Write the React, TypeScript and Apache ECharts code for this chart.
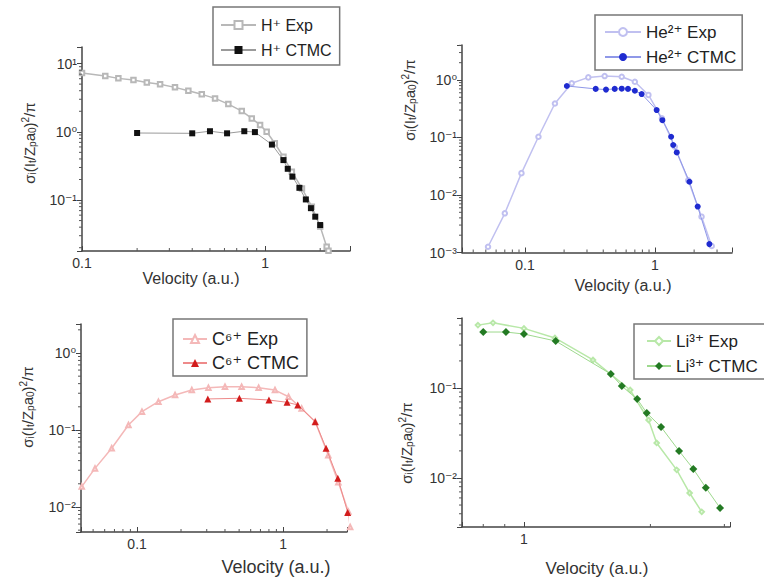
import React, { useEffect, useRef } from 'react';
import * as echarts from 'echarts';

// ---- Panel 1: H+ ----
const hExpV = [0.1, 0.134, 0.158, 0.191, 0.226, 0.267, 0.322, 0.381, 0.451, 0.533, 0.63, 0.746, 0.846, 0.939, 1.02, 1.13, 1.26, 1.4, 1.59, 1.8, 2.0, 2.17, 2.22];
const hExpS = [7.3, 6.56, 6.07, 5.73, 5.3, 4.96, 4.48, 3.99, 3.54, 3.09, 2.55, 2.01, 1.57, 1.26, 1.0, 0.68, 0.43, 0.26, 0.148, 0.08, 0.041, 0.0207, 0.018];
const hCtmcV = [0.2, 0.4, 0.5, 0.62, 0.77, 0.88, 1.09, 1.26, 1.33, 1.41, 1.54, 1.67, 1.78, 1.88, 2.0];
const hCtmcS = [0.96, 0.95, 1.02, 0.95, 1.02, 0.99, 0.65, 0.385, 0.287, 0.22, 0.151, 0.102, 0.076, 0.057, 0.043];

// ---- Panel 2: He2+ ----
const heExpV = [0.052, 0.07, 0.094, 0.127, 0.17, 0.229, 0.307, 0.41, 0.555, 0.7, 0.89, 1.13, 1.42, 1.8, 2.28, 2.73];
const heExpS = [0.00126, 0.0048, 0.024, 0.103, 0.39, 0.875, 1.11, 1.17, 1.14, 0.93, 0.55, 0.216, 0.069, 0.018, 0.0042, 0.0013];
const heCtmcV = [0.21, 0.35, 0.42, 0.49, 0.555, 0.62, 0.7, 0.79, 1.03, 1.14, 1.33, 1.38, 1.47, 1.84, 2.13, 2.62];
const heCtmcS = [0.787, 0.7, 0.68, 0.7, 0.706, 0.7, 0.65, 0.57, 0.3, 0.2, 0.103, 0.074, 0.055, 0.017, 0.0063, 0.0014];

// ---- Panel 3: C6+ ----
const cExpV = [0.0418, 0.0515, 0.067, 0.0873, 0.108, 0.14, 0.182, 0.237, 0.308, 0.4, 0.52, 0.68, 0.88, 1.09, 1.34, 1.66, 2.04, 2.39, 2.8, 2.88];
const cExpS = [0.0184, 0.0317, 0.058, 0.116, 0.173, 0.233, 0.285, 0.33, 0.354, 0.365, 0.365, 0.354, 0.33, 0.27, 0.19, 0.128, 0.047, 0.021, 0.0087, 0.0055];
const cCtmcV = [0.305, 0.502, 0.8, 1.065, 1.26, 1.66, 1.97, 2.37, 2.77];
const cCtmcS = [0.253, 0.258, 0.245, 0.229, 0.211, 0.128, 0.058, 0.0236, 0.0085];

// ---- Panel 4: Li3+ ----
const liExpV = [0.777, 0.844, 1.0, 1.185, 1.46, 1.79, 1.98, 2.07, 2.31, 2.48, 2.65];
const liExpS = [0.5, 0.53, 0.46, 0.36, 0.205, 0.095, 0.044, 0.0245, 0.0123, 0.0068, 0.0042];
const liCtmcV = [0.8, 0.906, 1.0, 1.19, 1.61, 1.71, 1.86, 1.96, 2.12, 2.34, 2.53, 2.71, 2.93];
const liCtmcS = [0.419, 0.419, 0.398, 0.333, 0.143, 0.105, 0.0755, 0.0528, 0.0369, 0.02, 0.0126, 0.0078, 0.00464];

// series names
const names = [
  ['H⁺ Exp', 'H⁺ CTMC'],
  ['He²⁺ Exp', 'He²⁺ CTMC'],
  ['C⁶⁺ Exp', 'C⁶⁺ CTMC'],
  ['Li³⁺ Exp', 'Li³⁺ CTMC'],
];
const xTitle = 'Velocity (a.u.)';

const FONT = '"Liberation Sans", Arial, "DejaVu Sans", sans-serif';
const zip = (a: number[], b: number[]) => a.map((v, i) => [v, b[i]]);

const panels = [
  {
    grid: { left: 82, top: 47, width: 268, height: 204 },
    x: [0.1, 2.91], y: [0.0179, 17.5],
    exp: zip(hExpV, hExpS), ctmc: zip(hCtmcV, hCtmcS),
    expSym: 'emptyRect', ctmcSym: 'rect', ctmcSize: 6,
    expColor: '#b8b8b8', ctmcColor: '#111111', ctmcLine: '#9a9a9a',
    legend: { left: 213, top: 7, padding: [9, 8, 6, 7], itemWidth: 35, itemGap: 7, fontSize: 16 },
    xt: [191, 278, 16], yt: [29, 143],
  },
  {
    grid: { left: 462, top: 45, width: 270, height: 207.5 },
    x: [0.0328, 3.91], y: [0.001, 4.06],
    exp: zip(heExpV, heExpS), ctmc: zip(heCtmcV, heCtmcS),
    expSym: 'emptyCircle', ctmcSym: 'circle', ctmcSize: 6,
    expColor: '#c0c0f0', ctmcColor: '#1f2bd0', ctmcLine: '#8f98e8',
    legend: { left: 595, top: 15, padding: [8, 6, 4, 9], itemWidth: 36, itemGap: 7, fontSize: 17 },
    xt: [623, 285, 16], yt: [409, 100],
  },
  {
    grid: { left: 81, top: 324, width: 266, height: 208 },
    x: [0.0413, 2.74], y: [0.00473, 2.38],
    exp: zip(cExpV, cExpS), ctmc: zip(cCtmcV, cCtmcS),
    expSym: 'emptyTriangle', ctmcSym: 'triangle', ctmcSize: 7,
    expColor: '#f4b8b8', ctmcColor: '#d21c1c', ctmcLine: '#ee8a8a',
    legend: { left: 173, top: 319, padding: [11, 8, 4, 9], itemWidth: 24, itemGap: 6, fontSize: 18 },
    xt: [276, 567, 18], yt: [27, 407],
  },
  {
    grid: { left: 462, top: 318, width: 268, height: 209 },
    x: [0.712, 3.094], y: [0.00285, 0.6],
    exp: zip(liExpV, liExpS), ctmc: zip(liCtmcV, liCtmcS),
    expSym: 'emptyDiamond', ctmcSym: 'diamond', ctmcSize: 8,
    expColor: '#b8e8a8', ctmcColor: '#237a23', ctmcLine: '#9ed98e',
    legend: { left: 634, top: 324, padding: [8, 8, 4, 12], itemWidth: 24, itemGap: 7, fontSize: 17 },
    xt: [597, 568, 17], yt: [406, 443],
  },
];

function minorTicks(min: number, max: number) {
  const out: number[] = [];
  for (let e = Math.floor(Math.log10(min)); e <= Math.ceil(Math.log10(max)); e++) {
    for (let k = 2; k <= 9; k++) {
      const v = k * Math.pow(10, e);
      if (v > min * 1.0001 && v < max * 0.9999) out.push(v);
    }
  }
  return out;
}

const supMap: Record<string, string> = { '-': '⁻', '0': '⁰', '1': '¹', '2': '²', '3': '³', '4': '⁴' };
function isPow(v: number) {
  const l = Math.log10(v);
  const n = Math.round(l);
  return Math.abs(l - n) < 1e-6 ? n : null;
}
const xFmt = (v: number) => {
  const n = isPow(v);
  if (n === null) return '';
  return n < 0 ? Math.pow(10, n).toFixed(-n) : String(Math.round(Math.pow(10, n)));
};
const yFmt = (v: number) => {
  const n = isPow(v);
  if (n === null) return '';
  return '10' + String(n).split('').map((c) => supMap[c]).join('');
};

const yTitleText = '{n|σ}{s|i}{n|(I}{s|t}{n|/Z}{s|p}{n|a}{s|0}{n|)}{u|2}{n|/π}';
const yTitleRich = {
  n: { fontSize: 15, fontFamily: FONT, fill: '#333' },
  s: { fontSize: 10, fontFamily: FONT, fill: '#333', padding: [7, 0, 0, 0] },
  u: { fontSize: 10, fontFamily: FONT, fill: '#333', padding: [0, 0, 7, 0] },
};

export default function App() {
  const ref = useRef<HTMLDivElement>(null);
  useEffect(() => {
    if (!ref.current) return;
    const chart = echarts.init(ref.current, undefined, { renderer: 'svg' });
    const series: any[] = [];
    panels.forEach((p, i) => {
      series.push({
        type: 'line', name: names[i][0], xAxisIndex: i, yAxisIndex: i,
        data: p.exp, symbol: p.expSym, symbolSize: 4.5, clip: false, z: 2,
        lineStyle: { color: p.expColor, width: 1.5 },
        itemStyle: { color: p.expColor, borderWidth: 1 },
      });
      series.push({
        type: 'line', name: names[i][1], xAxisIndex: i, yAxisIndex: i,
        data: p.ctmc, symbol: p.ctmcSym, symbolSize: p.ctmcSize, clip: false, z: 3,
        lineStyle: { color: p.ctmcLine, width: 1 },
        itemStyle: { color: p.ctmcColor },
      });
      series.push({
        type: 'custom', xAxisIndex: i, yAxisIndex: i, silent: true, clip: false, z: 4,
        data: minorTicks(p.x[0], p.x[1]).map((v) => [v, p.y[0]]),
        renderItem: (_params: any, api: any) => {
          const c = api.coord([api.value(0), api.value(1)]);
          return { type: 'line', shape: { x1: c[0], y1: c[1], x2: c[0], y2: c[1] - 3 }, style: { stroke: '#555', lineWidth: 1 } };
        },
      });
      series.push({
        type: 'custom', xAxisIndex: i, yAxisIndex: i, silent: true, clip: false, z: 4,
        data: minorTicks(p.y[0], p.y[1]).map((v) => [p.x[0], v]),
        renderItem: (_params: any, api: any) => {
          const c = api.coord([api.value(0), api.value(1)]);
          return { type: 'line', shape: { x1: c[0], y1: c[1], x2: c[0] - 3, y2: c[1] }, style: { stroke: '#555', lineWidth: 1 } };
        },
      });
    });

    const graphic: any[] = [];
    panels.forEach((p) => {
      graphic.push({
        type: 'text', x: p.xt[0], y: p.xt[1], z: 10,
        style: { text: xTitle, fontSize: p.xt[2], fontFamily: FONT, fill: '#333', align: 'center', verticalAlign: 'middle' },
      });
      graphic.push({
        type: 'text', x: p.yt[0], y: p.yt[1], rotation: Math.PI / 2, z: 10,
        style: { text: yTitleText, rich: yTitleRich, fontSize: 15, fontFamily: FONT, fill: '#333', align: 'center', verticalAlign: 'middle' },
      });
    });

    const option: any = {
      animation: false,
      backgroundColor: '#ffffff',
      grid: panels.map((p) => ({ ...p.grid })),
      xAxis: panels.map((p, i) => ({
        type: 'log', logBase: 10, gridIndex: i, min: p.x[0], max: p.x[1],
        axisLine: { show: true, lineStyle: { color: '#444', width: 1.5 } },
        axisTick: { show: true, inside: true, length: 5, lineStyle: { color: '#444', width: 1 } },
        axisLabel: { formatter: xFmt, margin: 5, fontSize: 14, color: '#333', fontFamily: FONT },
        splitLine: { show: false },
      })),
      yAxis: panels.map((p, i) => ({
        type: 'log', logBase: 10, gridIndex: i, min: p.y[0], max: p.y[1],
        axisLine: { show: true, lineStyle: { color: '#444', width: 1.5 } },
        axisTick: { show: true, inside: false, length: 5, lineStyle: { color: '#444', width: 1 } },
        axisLabel: { formatter: yFmt, margin: 5, fontSize: 14, color: '#333', fontFamily: FONT },
        splitLine: { show: false },
      })),
      legend: panels.map((p, i) => ({
        show: true, orient: 'vertical', left: p.legend.left, top: p.legend.top,
        padding: p.legend.padding, itemWidth: p.legend.itemWidth, itemHeight: 10,
        itemGap: p.legend.itemGap, data: names[i], selectedMode: false,
        borderColor: '#777', borderWidth: 1.5, borderRadius: 0, backgroundColor: '#fff',
        textStyle: { fontSize: p.legend.fontSize, lineHeight: 18, color: '#222', fontFamily: FONT },
      })),
      series,
      graphic,
    };
    chart.setOption(option);
    return () => chart.dispose();
  }, []);
  return <div ref={ref} style={{ position: 'fixed', left: 0, top: 0, width: 764, height: 582, background: '#fff' }} />;
}
